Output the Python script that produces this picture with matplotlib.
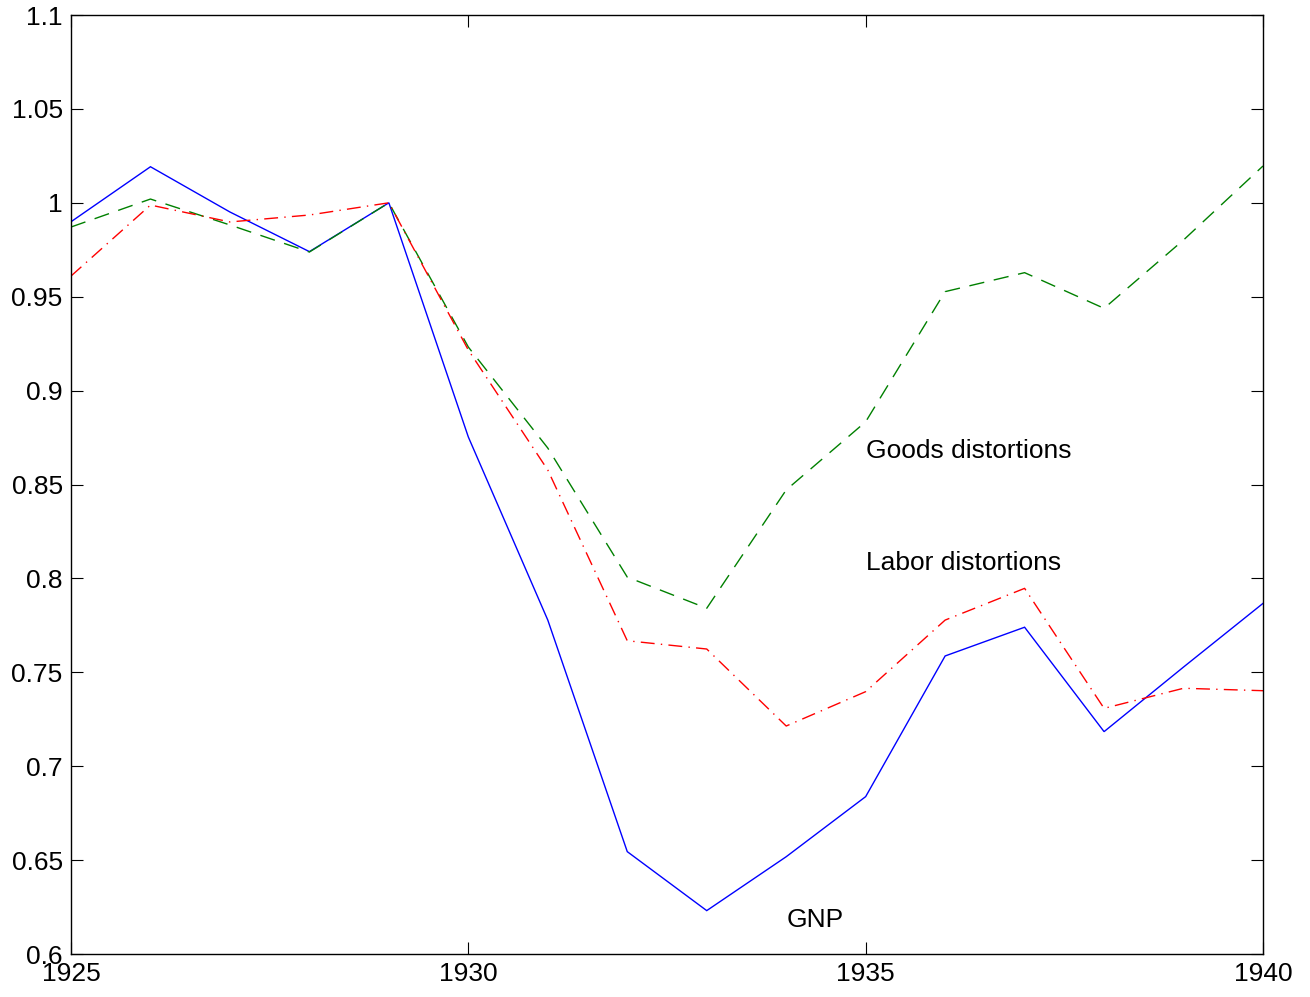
import matplotlib
matplotlib.use("Agg")
import matplotlib.pyplot as plt

years = list(range(1925, 1941))
gnp = [0.9899, 1.0192, 0.9951, 0.9740, 1.0000, 0.8753, 0.7778, 0.6545,
       0.6231, 0.6518, 0.6838, 0.7587, 0.7740, 0.7184, 0.7528, 0.7867]
goods = [0.9871, 1.0020, 0.9882, 0.9738, 1.0000, 0.9232, 0.8694, 0.8007,
         0.7841, 0.8471, 0.8834, 0.9527, 0.9628, 0.9438, 0.9802, 1.0196]
labor = [0.9610, 0.9988, 0.9898, 0.9935, 1.0000, 0.9216, 0.8577, 0.7668,
         0.7624, 0.7214, 0.7397, 0.7778, 0.7947, 0.7308, 0.7415, 0.7402]

xticks = [1925, 1930, 1935, 1940]
xticklabels = ["1925", "1930", "1935", "1940"]
yticks = [0.6, 0.65, 0.7, 0.75, 0.8, 0.85, 0.9, 0.95, 1.0, 1.05, 1.1]
yticklabels = ["0.6", "0.65", "0.7", "0.75", "0.8", "0.85", "0.9", "0.95", "1", "1.05", "1.1"]

annotations = [("Goods distortions", 1935, 0.868),
               ("Labor distortions", 1935, 0.808),
               ("GNP", 1934, 0.618)]

plt.rcParams['font.family'] = ['Liberation Sans', 'DejaVu Sans']

fig = plt.figure(figsize=(13.1, 9.97), dpi=100)
ax = fig.add_axes([71/1310, 43/997, (1263-71)/1310, (954-15)/997])

ax.plot(years, gnp, color='#0000ff', lw=1.0, solid_joinstyle='miter')
ax.plot(years, goods, color='#008000', lw=1.0, dashes=(11, 7))
ax.plot(years, labor, color='#ff0000', lw=1.0, dashes=(10, 4.5, 1, 4.5))

for txt, x, y in annotations:
    ax.text(x, y, txt, fontsize=19, ha='left', va='center', color='black')

ax.set_xlim(1925, 1940)
ax.set_ylim(0.6, 1.1)
ax.set_xticks(xticks)
ax.set_xticklabels(xticklabels)
ax.set_yticks(yticks)
ax.set_yticklabels(yticklabels)
ax.tick_params(direction='in', length=8.6, width=0.8, labelsize=19,
               top=True, right=True, pad=6)
for s in ax.spines.values():
    s.set_linewidth(1.0)

fig.savefig("out.png", dpi=100)
